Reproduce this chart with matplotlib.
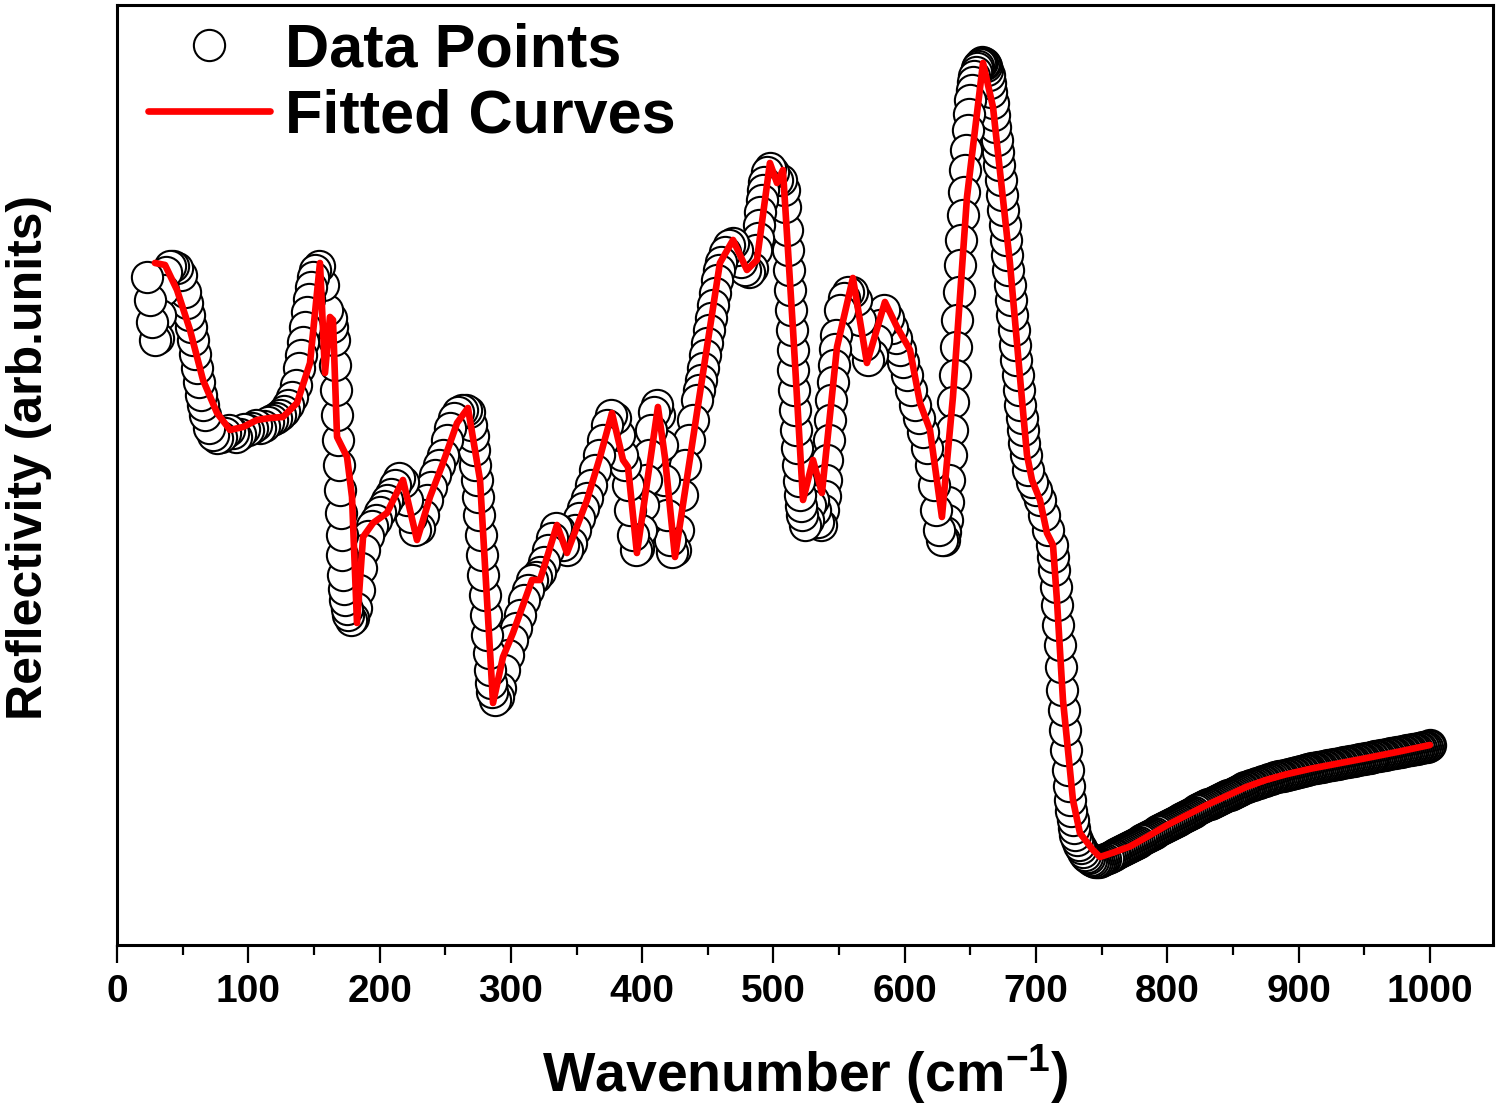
import matplotlib
matplotlib.use("Agg")
import matplotlib.pyplot as plt
from matplotlib.ticker import MultipleLocator

plt.rcParams['font.family'] = ['Liberation Sans', 'DejaVu Sans']
plt.rcParams['font.weight'] = 'bold'
plt.rcParams['mathtext.fontset'] = 'custom'
plt.rcParams['mathtext.rm'] = 'Liberation Sans:bold'
plt.rcParams['mathtext.bf'] = 'Liberation Sans:bold'
plt.rcParams['mathtext.it'] = 'Liberation Sans:bold'

# ---------------- data (arbitrary reflectivity units) ----------------
wavenumber_data = [
    23, 25, 27, 29, 31, 33, 35, 37, 40, 43,
    46, 49, 52, 55, 58, 61, 64, 67, 70, 73,
    76, 79, 82, 85, 88, 91, 94, 97, 100, 103,
    106, 109, 112, 115, 118, 121, 124, 127, 130, 133,
    136, 139, 142, 145, 148, 151, 154, 157, 160, 163,
    165, 166.5, 168, 169.5, 171, 172.5, 174, 176, 178, 180,
    182, 184, 186, 188, 191, 194, 197, 200, 203, 206,
    209, 212, 215, 218, 221, 224, 227, 230, 233, 236,
    239, 242, 245, 248, 251, 254, 257, 260, 263, 266,
    268, 270, 272, 274, 276, 278, 280, 282, 284, 286,
    288, 290, 292, 295, 298, 301, 304, 307, 310, 313,
    316, 319, 322, 325, 328, 331, 334, 337, 340, 343,
    346, 349, 352, 355, 358, 361, 364, 367, 370, 373,
    376, 379, 382, 385, 387, 389, 391, 393, 395, 397,
    399, 401, 403, 405, 407, 409, 411, 413, 415, 417,
    419, 421, 423, 425, 427, 430, 433, 436, 439, 442,
    445, 448, 451, 454, 457, 460, 463, 466, 469, 472,
    475, 478, 481, 484, 487, 489, 491, 493, 495, 497,
    500, 503, 506, 508, 510, 511.5, 513, 514.5, 516, 517.5,
    519, 520.5, 522, 524, 526, 528, 530, 532, 534, 536,
    538, 540, 542, 544, 546, 548, 551, 554, 557, 560,
    563, 566, 569, 572, 575, 578, 581, 584, 587, 590,
    593, 596, 599, 602, 605, 608, 611, 614, 617, 620,
    622, 624, 626, 628, 630, 632, 634,
    635, 636, 637, 638, 639, 640, 641, 642, 643, 644,
    645, 646, 647, 648, 649, 650, 651, 652, 653, 654,
    655, 656, 657, 658, 659, 660, 661, 662, 663, 664,
    665, 666, 667, 668, 669, 670, 671, 672, 673, 674,
    675, 676, 677, 678, 679, 680, 681, 682, 683, 684,
    685, 686, 687, 688, 689, 690, 691, 692,
    694, 697, 700, 703, 706, 709, 712,
    713, 714, 715, 716, 717, 718, 719, 720, 721, 722,
    723, 724, 725, 726, 727, 728, 729, 730,
    731.5, 733, 734.5, 736, 737.5, 739, 740.5, 742, 743.5, 745,
    746.5, 748, 749.5, 751, 752.5,
    754.5, 756, 757.5, 759, 760.5, 762, 763.5, 765, 766.5, 768, 769.5,
    771, 772.5, 774, 775.5, 777, 778.5, 780, 781.5, 783, 784.5,
    786, 787.5, 789, 790.5, 792, 793.5, 795, 796.5, 798, 799.5,
    801, 802.5, 804, 805.5, 807, 808.5, 810, 811.5, 813, 814.5,
    816, 817.5, 819, 820.5, 822, 823.5, 825, 826.5, 828, 829.5,
    831, 832.5, 834, 835.5, 837, 838.5, 840, 841.5, 843, 844.5,
    846, 847.5, 849, 850.5, 852, 853.5, 855, 856.5, 858, 859.5,
    861, 862.5, 864, 865.5, 867, 868.5, 870, 871.5, 873, 874.5,
    876, 877.5, 879, 880.5, 882, 883.5, 885, 886.5, 888, 889.5,
    891, 892.5, 894, 895.5, 897, 898.5, 900, 901.5, 903, 904.5,
    906, 907.5, 909, 910.5, 912, 913.5, 915, 916.5, 918, 919.5,
    921, 922.5, 924, 925.5, 927, 928.5, 930, 931.5, 933, 934.5,
    936, 937.5, 939, 940.5, 942, 943.5, 945, 946.5, 948, 949.5,
    951, 952.5, 954, 955.5, 957, 958.5, 960, 961.5, 963, 964.5,
    966, 967.5, 969, 970.5, 972, 973.5, 975, 976.5, 978, 979.5,
    981, 982.5, 984, 985.5, 987, 988.5, 990, 991.5, 993, 994.5,
    996, 997.5, 999, 1000,
]
reflectivity_data = [
    66.8, 64.5, 62.3, 60.5, 60.7, 63.0, 65.5, 67.3, 67.9, 67.9,
    67.7, 67.0, 65.3, 63.0, 60.5, 57.7, 55.0, 53.0, 51.7, 51.0,
    50.7, 50.8, 51.2, 51.5, 51.2, 50.8, 51.1, 51.6, 51.5, 51.7,
    52.0, 51.7, 51.9, 52.3, 52.5, 52.7, 53.0, 53.4, 54.0, 54.8,
    56.0, 57.7, 60.3, 63.3, 65.8, 67.5, 67.9, 66.0, 63.5, 62.7,
    60.5, 55.5, 50.5, 45.5, 41.0, 37.0, 34.5, 33.0, 32.5, 32.7,
    33.7, 35.5, 37.7, 39.5, 40.9, 41.9, 42.5, 43.3, 43.9, 44.5,
    45.1, 46.0, 46.7, 46.3, 44.5, 42.8, 41.5, 41.7, 43.0, 44.5,
    45.8, 47.0, 48.0, 49.0, 50.5, 51.7, 52.7, 53.3, 53.5, 53.5,
    53.3, 52.0, 49.5, 46.5, 43.0, 39.0, 35.0, 31.0, 27.5, 25.3,
    24.5, 24.8, 25.7, 27.5, 29.0, 30.5, 31.7, 33.0, 34.5, 35.5,
    36.5, 36.8, 37.3, 38.3, 39.5, 40.7, 41.7, 41.5, 40.0, 39.5,
    40.2, 41.5, 42.7, 43.7, 44.7, 46.0, 47.5, 49.0, 50.5, 52.0,
    53.0, 52.7, 51.0, 49.0, 48.0, 46.0, 43.5, 41.0, 39.5, 39.7,
    41.5, 44.0, 46.5, 49.0, 51.5, 53.3, 54.0, 53.0, 50.0, 46.5,
    43.0, 40.5, 39.3, 39.5, 41.5, 45.0, 48.0, 50.5, 52.5, 54.5,
    56.5, 59.0, 61.5, 64.0, 66.5, 68.3, 69.3, 70.0, 70.2, 69.5,
    68.3, 67.5, 67.3, 67.7, 69.5, 72.0, 74.5, 76.3, 77.3, 77.7,
    77.3, 76.5, 76.5, 75.5, 71.5, 67.5, 63.5, 59.5, 55.5, 51.5,
    48.0, 45.0, 43.0, 42.0, 42.5, 44.0, 44.5, 43.5, 42.3, 42.0,
    43.5, 46.5, 50.5, 54.5, 58.0, 61.0, 63.5, 64.7, 65.3, 65.3,
    64.5, 62.5, 60.0, 58.5, 59.0, 60.5, 62.0, 63.5, 62.7, 61.7,
    60.7, 59.5, 58.3, 57.0, 55.5, 54.0, 52.7, 51.3, 49.7, 48.0,
    46.0, 43.5, 41.5, 40.5, 40.5, 42.5, 46.5,
    49.0, 51.5, 54.3, 57.0, 59.8, 62.5, 65.3, 68.0, 70.5, 73.0,
    75.3, 77.5, 79.5, 81.5, 83.1, 84.5, 85.5, 86.3, 86.9, 87.3,
    87.7, 87.9, 88.1, 88.2, 88.3, 88.2, 88.1, 87.9, 87.5, 87.0,
    86.2, 85.3, 84.2, 83.0, 81.8, 80.5, 79.3, 78.0, 76.5, 75.0,
    73.5, 72.0, 70.5, 69.0, 67.5, 66.0, 64.5, 63.0, 61.5, 60.0,
    58.5, 57.0, 55.5, 54.0, 52.7, 51.5, 50.2, 49.0,
    47.5, 46.3, 45.5, 44.5, 43.0, 41.5, 40.0,
    38.8, 37.5, 35.8, 34.0, 32.0, 30.0, 27.8, 25.5, 23.5, 21.5,
    19.5, 17.5, 15.9, 14.5, 13.4, 12.5, 11.7, 11.0,
    10.5, 10.0, 9.7, 9.3, 9.0, 8.8, 8.7, 8.5, 8.4, 8.3,
    8.3, 8.3, 8.4, 8.45, 8.55,
    8.70, 8.80, 8.89, 8.99, 9.09, 9.19, 9.28, 9.38, 9.48, 9.58, 9.67,
    9.78, 9.89, 10.00, 10.12, 10.23, 10.34, 10.45, 10.57, 10.68, 10.79,
    10.90, 11.02, 11.13, 11.24, 11.35, 11.47, 11.58, 11.69, 11.80, 11.92,
    12.02, 12.12, 12.22, 12.32, 12.43, 12.53, 12.63, 12.73, 12.83, 12.94,
    13.04, 13.14, 13.24, 13.34, 13.45, 13.55, 13.65, 13.75, 13.85, 13.96,
    14.05, 14.14, 14.23, 14.32, 14.41, 14.50, 14.59, 14.68, 14.77, 14.86,
    14.95, 15.04, 15.13, 15.22, 15.31, 15.40, 15.49, 15.58, 15.67, 15.76,
    15.83, 15.90, 15.97, 16.03, 16.10, 16.17, 16.24, 16.30, 16.37, 16.44,
    16.51, 16.57, 16.64, 16.70, 16.75, 16.80, 16.85, 16.89, 16.94, 16.99,
    17.04, 17.08, 17.13, 17.18, 17.23, 17.28, 17.32, 17.37, 17.42, 17.47,
    17.52, 17.56, 17.61, 17.66, 17.69, 17.73, 17.77, 17.81, 17.84, 17.88,
    17.92, 17.96, 17.99, 18.03, 18.07, 18.11, 18.14, 18.18, 18.22, 18.26,
    18.29, 18.33, 18.37, 18.41, 18.44, 18.48, 18.52, 18.56, 18.59, 18.63,
    18.67, 18.71, 18.74, 18.78, 18.82, 18.86, 18.89, 18.93, 18.97, 19.01,
    19.04, 19.08, 19.12, 19.16, 19.19, 19.23, 19.27, 19.31, 19.34, 19.38,
    19.42, 19.46, 19.49, 19.53, 19.57, 19.61, 19.64, 19.68, 19.72, 19.76,
    19.79, 19.83, 19.90, 20.0,
]

# additional readings taken along the steep flanks of the spectrum
wavenumber_data_flanks = [
    53.5, 56.5, 59.5, 62.5, 65.5,
    140.5, 143.5, 146.5, 149.5,
    164, 165.75, 167.25, 168.75, 170.25, 171.75, 173.25, 175,
    271, 273, 275, 277, 279, 281, 283, 285,
    443.5, 446.5, 449.5, 452.5, 455.5, 458.5,
    488, 490, 492,
    509, 510.75, 512.25, 513.75, 515.25, 516.75, 518.25, 519.75, 521.25,
    539, 541, 543, 545, 547,
    631, 633,
]
reflectivity_data_flanks = [
    64.2, 61.8, 59.1, 56.3, 54.0,
    59.0, 61.8, 64.6, 66.8,
    61.8, 58.0, 53.0, 48.0, 43.2, 39.0, 35.6, 33.6,
    50.9, 48.0, 44.8, 41.0, 37.0, 33.0, 29.2, 26.2,
    55.5, 57.7, 60.2, 62.7, 65.2, 67.5,
    70.7, 73.3, 75.5,
    73.8, 69.5, 65.5, 61.5, 57.5, 53.5, 49.7, 46.4, 43.9,
    44.9, 48.5, 52.5, 56.3, 59.6,
    41.3, 44.3,
]
assert len(wavenumber_data) == len(reflectivity_data)
assert len(wavenumber_data_flanks) == len(reflectivity_data_flanks)

wavenumber_fit = [
    28.9, 36.6, 45.7, 55.6, 65.5, 76.2, 86.1, 96.0, 106.6, 116.5, 126.4, 137.1, 147.0, 154.6, 158.4, 162.2,
    164.5, 167.6, 175.2, 179.0, 182.8, 187.4, 195.0, 205.6, 217.8, 228.5, 238.4, 248.3, 259.0, 267.3, 276.5,
    286.4, 294.0, 301.6, 316.1, 322.2, 335.1, 342.7, 358.0, 367.9, 377.0, 385.4, 389.2, 396.0, 412.0, 417.4,
    425.0, 444.0, 459.2, 469.2, 479.8, 487.4, 497.3, 502.7, 507.2, 514.9, 522.5, 530.1, 536.9, 548.4, 560.5,
    571.2, 584.9, 594.1, 604.0, 611.6, 619.2, 628.3, 636.7, 647.4, 659.6, 667.2, 680.1, 689.3, 693.1, 696.9,
    703.0, 708.3, 712.9, 715.9, 720.5, 728.1, 733.4, 743.3, 748.7, 760.0, 771.5, 785.0, 800.0, 815.0, 830.0,
    845.0, 860.0, 875.0, 890.0, 910.0, 930.0, 950.0, 975.0, 1000.0,
]
reflectivity_fit = [
    68.2, 68.0, 65.5, 61.5, 56.5, 53.2, 51.5, 51.8, 52.5, 52.7, 52.8, 54.2, 58.2, 68.2, 57.2, 62.8,
    62.5, 50.8, 48.8, 44.8, 32.2, 40.8, 42.2, 43.2, 46.5, 40.5, 44.8, 48.2, 52.2, 53.7, 46.5,
    24.2, 28.8, 31.2, 36.5, 36.5, 42.0, 39.2, 44.5, 48.8, 53.2, 48.5, 47.8, 39.2, 53.8, 48.7,
    38.8, 55.2, 68.2, 70.5, 67.5, 68.5, 78.2, 76.2, 77.5, 61.5, 44.5, 48.5, 45.2, 59.8, 66.7,
    58.2, 64.3, 61.8, 59.5, 54.2, 51.5, 42.8, 54.8, 74.8, 88.2, 83.8, 68.2, 54.5, 49.0, 46.5,
    44.5, 41.2, 40.0, 34.5, 24.5, 14.5, 11.2, 9.5, 8.8, 9.3, 9.85, 10.85, 12.0, 13.0, 14.0,
    14.9, 15.8, 16.5, 17.05, 17.65, 18.15, 18.65, 19.3, 20.0,
]
assert len(wavenumber_fit) == len(reflectivity_fit)

x_ticks = [0, 100, 200, 300, 400, 500, 600, 700, 800, 900, 1000]
legend_labels = ["Data Points", "Fitted Curves"]

# merge all readings and draw them from high to low wavenumber
points = sorted(zip(wavenumber_data + wavenumber_data_flanks,
                    reflectivity_data + reflectivity_data_flanks), reverse=True)
xs = [p[0] for p in points]
ys = [p[1] for p in points]

# ---------------- figure ----------------
fig = plt.figure(figsize=(15, 11.05), dpi=100)
ax = fig.add_axes([0.078, 0.1448, 0.9173, 0.8507])

data_handle, = ax.plot(xs, ys, linestyle='none',
                       marker='o', markersize=22.5, markerfacecolor='white',
                       markeredgecolor='black', markeredgewidth=1.5, zorder=2,
                       label=legend_labels[0])
fit_handle, = ax.plot(wavenumber_fit, reflectivity_fit, color='#ff0000', linewidth=4.8,
                      solid_joinstyle='round', solid_capstyle='round', zorder=3,
                      label=legend_labels[1])

ax.set_xlim(0, 1048)
ax.set_ylim(0, 94)
ax.set_xticks(x_ticks)
ax.set_xticklabels([str(t) for t in x_ticks])
ax.xaxis.set_minor_locator(MultipleLocator(50))
ax.set_yticks([])

ax.tick_params(axis='x', which='major', direction='out', length=13, width=1.6,
               labelsize=28, pad=8)
ax.tick_params(axis='x', which='minor', direction='out', length=7, width=1.6)
for lab in ax.get_xticklabels():
    lab.set_fontweight('bold')

for sp in ax.spines.values():
    sp.set_linewidth(2.2)

ax.set_xlabel("Wavenumber (cm$^{-1}$)", fontsize=40, fontweight='bold')
ax.xaxis.set_label_coords(0.5, -0.103)
ax.set_ylabel("Reflectivity (arb.units)", fontsize=36, fontweight='bold')
ax.yaxis.set_label_coords(-0.047, 0.519)

leg = ax.legend(handles=[data_handle, fit_handle], loc='upper left',
                bbox_to_anchor=(0.0225, 0.9814), frameon=False, borderpad=0,
                borderaxespad=0, handlelength=2.0, handletextpad=0.25,
                labelspacing=0.14, numpoints=1,
                prop={'family': 'Liberation Sans', 'weight': 'bold', 'size': 44})

fig.savefig("out.png", dpi=100)
